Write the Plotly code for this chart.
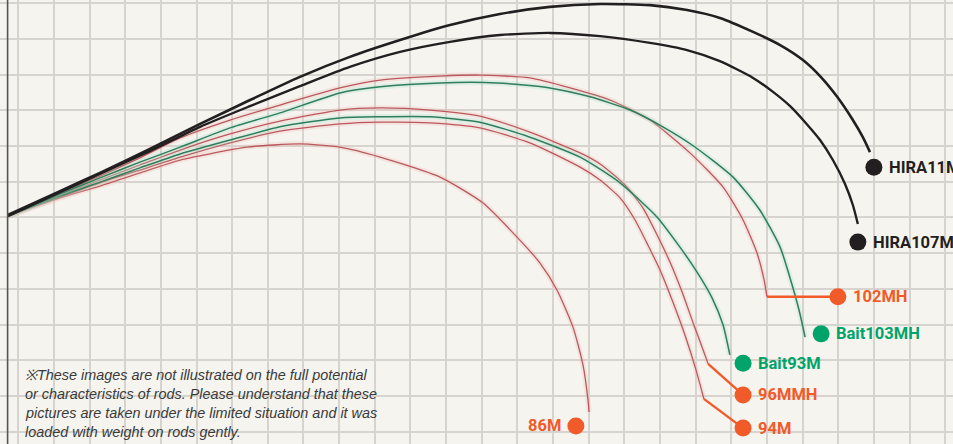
import plotly.graph_objects as go

# ---- data (grid units: x = horizontal distance, y = drop below the top grid line) ----
hira11m_x = [-0.29, 1.17, 2.29, 3.69, 5.10, 6.50, 7.90, 9.30, 10.71, 12.11, 13.51, 14.91, 16.32, 17.72, 18.76, 19.68, 20.61, 21.37, 22.01, 22.49, 22.97, 23.41, 23.69, 23.89]
hira11m_y = [5.93, 5.26, 4.75, 4.08, 3.38, 2.71, 2.06, 1.50, 1.03, 0.61, 0.30, 0.10, 0.02, 0.05, 0.19, 0.41, 0.80, 1.17, 1.59, 2.04, 2.62, 3.27, 3.75, 4.17]

hira107_x = [-0.29, 1.17, 2.29, 3.69, 5.10, 6.50, 7.90, 9.30, 10.71, 12.11, 13.51, 14.91, 16.32, 17.72, 18.76, 19.68, 20.61, 21.17, 21.65, 22.07, 22.49, 22.85, 23.19, 23.41, 23.55]
hira107_y = [5.96, 5.29, 4.78, 4.14, 3.46, 2.88, 2.32, 1.78, 1.36, 1.08, 0.89, 0.83, 0.92, 1.11, 1.31, 1.62, 2.09, 2.48, 2.88, 3.33, 3.83, 4.39, 5.06, 5.65, 6.18]

mh102_x = [-0.29, 1.17, 2.29, 3.41, 4.54, 5.94, 7.34, 9.02, 10.15, 11.83, 12.95, 14.35, 15.48, 16.60, 17.72, 18.84, 19.77, 20.33, 20.72, 20.92, 21.00]
mh102_y = [5.96, 5.31, 4.84, 4.33, 3.77, 3.27, 2.85, 2.37, 2.15, 2.04, 2.01, 2.09, 2.37, 2.71, 3.27, 4.19, 5.15, 6.07, 6.99, 7.75, 8.22]

bait103_x = [-0.29, 1.17, 2.29, 3.41, 4.54, 5.94, 7.34, 9.02, 10.15, 11.83, 13.43, 14.91, 16.04, 17.16, 18.08, 18.93, 20.05, 20.80, 21.37, 21.65, 21.90, 22.07]
bait103_y = [5.96, 5.34, 4.89, 4.45, 4.03, 3.49, 3.07, 2.51, 2.34, 2.23, 2.23, 2.37, 2.62, 2.99, 3.46, 3.99, 4.87, 5.79, 6.83, 7.70, 8.59, 9.35]

mmh96_x = [-0.29, 1.17, 2.29, 3.41, 4.54, 5.94, 7.34, 9.02, 10.15, 11.55, 12.95, 14.35, 15.76, 16.32, 17.02, 17.52, 17.92, 18.28, 18.62, 18.95, 19.21, 19.35]
mmh96_y = [5.96, 5.37, 4.95, 4.53, 4.11, 3.66, 3.30, 2.99, 2.93, 2.99, 3.16, 3.61, 4.19, 4.50, 5.09, 5.73, 6.49, 7.25, 8.09, 9.01, 9.71, 10.10]

bait93_x = [-0.29, 1.17, 2.29, 3.41, 4.54, 5.94, 7.34, 9.02, 10.15, 11.55, 12.95, 14.35, 15.76, 16.88, 17.92, 18.56, 19.04, 19.46, 19.77, 19.96]
bait93_y = [5.96, 5.40, 5.01, 4.61, 4.22, 3.83, 3.46, 3.21, 3.18, 3.18, 3.33, 3.75, 4.31, 5.03, 5.99, 6.83, 7.53, 8.25, 9.01, 9.85]

m94_x = [-0.29, 1.17, 2.29, 3.41, 4.54, 5.94, 7.34, 9.02, 10.15, 11.55, 12.95, 14.35, 15.76, 16.32, 16.88, 17.30, 17.66, 18.00, 18.34, 18.70, 19.01, 19.23]
m94_y = [5.96, 5.43, 5.03, 4.67, 4.31, 3.91, 3.58, 3.38, 3.33, 3.35, 3.49, 3.91, 4.59, 4.95, 5.45, 6.07, 6.77, 7.47, 8.31, 9.29, 10.27, 11.08]

m86_x = [-0.29, 1.17, 2.29, 3.41, 4.54, 6.42, 7.90, 9.02, 10.15, 11.83, 13.03, 13.99, 14.63, 15.11, 15.56, 15.84, 15.98, 16.01]
m86_y = [5.96, 5.45, 5.12, 4.75, 4.39, 4.03, 3.94, 4.03, 4.31, 4.87, 5.59, 6.55, 7.27, 8.03, 9.07, 10.13, 11.11, 11.45]

names = ["HIRA11M", "HIRA107MH", "102MH", "Bait103MH", "Bait93M", "96MMH", "94M", "86M"]
label_x = [24.00, 23.55, 22.99, 22.52, 20.33, 20.33, 20.33, 15.64]
label_y = [4.59, 6.69, 8.22, 9.26, 10.08, 10.97, 11.90, 11.84]

note_lines = [
    "※These images are not illustrated on the full potential",
    "or characteristics of rods. Please understand that these",
    "pictures are taken under the limited situation and it was",
    "loaded with weight on rods gently.",
]

BLACK = "#231f20"
ORANGE = "#f15a29"
GREEN = "#00a46b"
RED_LINE = "#b9585c"
GREEN_LINE = "#2f7d5b"

fig = go.Figure()


def curve(x, y, color, width, halo=None):
    if halo:
        fig.add_trace(go.Scatter(x=x, y=y, mode="lines",
                                 line=dict(color=halo, width=width + 4, shape="spline", smoothing=0.6),
                                 opacity=0.25, hoverinfo="skip", showlegend=False))
    fig.add_trace(go.Scatter(x=x, y=y, mode="lines",
                             line=dict(color=color, width=width, shape="spline", smoothing=0.6),
                             hoverinfo="skip", showlegend=False))


curve(m86_x, m86_y, RED_LINE, 1.3, "#f4b8b0")
curve(m94_x, m94_y, RED_LINE, 1.3, "#f4b8b0")
curve(mmh96_x, mmh96_y, RED_LINE, 1.3, "#f4b8b0")
curve(bait93_x, bait93_y, GREEN_LINE, 1.5, "#9fe0c8")
curve(mh102_x, mh102_y, RED_LINE, 1.3, "#f4b8b0")
curve(bait103_x, bait103_y, GREEN_LINE, 1.5, "#9fe0c8")
curve(hira107_x, hira107_y, BLACK, 2.4)
curve(hira11m_x, hira11m_y, BLACK, 2.6)

color_map = {"HIRA11M": BLACK, "HIRA107MH": BLACK, "102MH": ORANGE, "Bait103MH": GREEN,
             "96MMH": ORANGE, "Bait93M": GREEN, "94M": ORANGE, "86M": ORANGE}
curve_ends = {"102MH": (mh102_x[-1], mh102_y[-1]),
              "96MMH": (mmh96_x[-1], mmh96_y[-1]),
              "94M": (m94_x[-1], m94_y[-1])}

# leader lines from curve tip to the label dot
for nm, (ex, ey) in curve_ends.items():
    i = names.index(nm)
    fig.add_trace(go.Scatter(x=[ex, label_x[i]], y=[ey, label_y[i]], mode="lines",
                             line=dict(color=ORANGE, width=2.4), hoverinfo="skip", showlegend=False))

for nm, lx, ly in zip(names, label_x, label_y):
    c = color_map[nm]
    fig.add_trace(go.Scatter(x=[lx], y=[ly], mode="markers",
                             marker=dict(color=c, size=17, line=dict(width=0)),
                             cliponaxis=False, hoverinfo="skip", showlegend=False))
    if nm == "86M":
        fig.add_annotation(x=lx - 0.37, y=ly, text=nm, showarrow=False, xanchor="right", yanchor="middle",
                           font=dict(family="Roboto", size=16.5, color=c, weight="bold"))
    else:
        fig.add_annotation(x=lx + 0.36, y=ly, text=nm, showarrow=False, xanchor="left", yanchor="middle",
                           font=dict(family="Roboto", size=16.5, color=c, weight="bold"))

note_y = [10.41, 10.94, 11.48, 12.01]
for t, yy in zip(note_lines, note_y):
    fig.add_annotation(x=0.14, y=yy, text=t, showarrow=False, xanchor="left", yanchor="middle",
                       font=dict(family="Liberation Sans", size=14.4, color="#3a3a3a", style="italic"))

# left reference line at the rod butt
fig.add_shape(type="line", xref="x", yref="paper", x0=-0.30, x1=-0.30, y0=0, y1=1,
              line=dict(color="#555555", width=1.6))

fig.update_layout(
    width=953, height=444, margin=dict(l=0, r=0, t=0, b=0),
    paper_bgcolor="#f5f4ef", plot_bgcolor="#f5f4ef", showlegend=False,
    xaxis=dict(range=[-0.513, 26.219], dtick=1, tick0=0, showgrid=True, gridcolor="#d7d4cf", gridwidth=2,
               zeroline=False, showticklabels=False, ticks="", fixedrange=True),
    yaxis=dict(range=[12.345, -0.0924], dtick=1, tick0=0, showgrid=True, gridcolor="#d7d4cf", gridwidth=2,
               zeroline=False, showticklabels=False, ticks="", fixedrange=True),
)

fig.write_html("out.html", config={"displayModeBar": False},
               post_script="document.body.style.margin='0px';document.body.style.overflow='hidden';")
